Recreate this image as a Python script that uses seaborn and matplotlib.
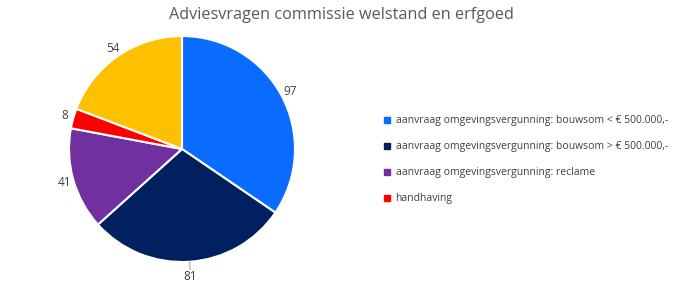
import matplotlib
matplotlib.use("Agg")
import matplotlib.pyplot as plt
from matplotlib.lines import Line2D
import seaborn as sns
import numpy as np

categories = [
    "aanvraag omgevingsvergunning: bouwsom < € 500.000,-",
    "aanvraag omgevingsvergunning: bouwsom > € 500.000,-",
    "aanvraag omgevingsvergunning: reclame",
    "handhaving",
    "",
]
values = [97, 81, 41, 8, 54]
colors = ["#0A6CFF", "#002060", "#7030A0", "#FF0000", "#FFC000"]
title = "Adviesvragen commissie welstand en erfgoed"

sns.set_theme(style="white")
plt.rcParams["font.family"] = ["Open Sans", "DejaVu Sans"]

W, H = 682, 304
fig = plt.figure(figsize=(W / 100, H / 100), dpi=100)
cx, cy, r = 182, 149, 113
ax = fig.add_axes([(cx - r) / W, (H - cy - r) / H, 2 * r / W, 2 * r / H])

wedges, texts = ax.pie(
    values, colors=colors, startangle=90, counterclock=False,
    labels=[str(v) for v in values], labeldistance=1.08,
    wedgeprops=dict(edgecolor="white", linewidth=1.5),
    textprops=dict(fontsize=8.5, color="#404040"),
)
for t in texts:
    t.set_ha("center")
    t.set_va("center")
ax.set_xlim(-1, 1)
ax.set_ylim(-1, 1)
ax.set_aspect("equal")

# leader line for the bottom label
total = sum(values)
start = 90 - 360 * values[0] / total
mid = np.deg2rad(start - 360 * values[1] / total / 2)
ax.plot([np.cos(mid), np.cos(mid) * 1.07], [np.sin(mid), np.sin(mid) * 1.07],
        color="#A6A6A6", lw=0.8, clip_on=False)
texts[1].set_position((np.cos(mid) * 1.13, np.sin(mid) * 1.13))

fig.text(0.5, 1 - 15 / H, title, ha="center", va="center", fontsize=11.7, color="#595959")

handles = [Line2D([], [], marker="s", linestyle="", markersize=4,
                  markerfacecolor=c, markeredgecolor=c) for c in colors[:4]]
leg = fig.legend(handles, categories[:4], loc="upper left",
                 bbox_to_anchor=(380 / W, 1 - 111 / H), frameon=False,
                 fontsize=7.5, labelcolor="#404040", handlelength=0.6,
                 handletextpad=0.5, labelspacing=1.45, borderaxespad=0)

fig.savefig("out.png", dpi=100, facecolor="white")
